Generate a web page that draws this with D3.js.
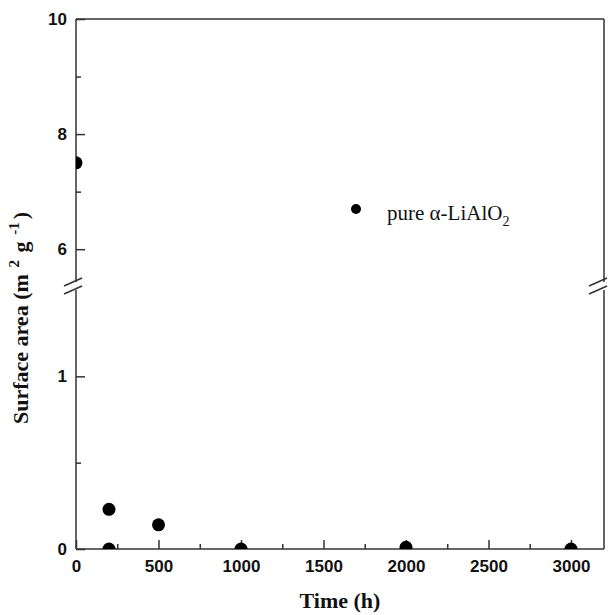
<!DOCTYPE html>
<html>
<head>
<meta charset="utf-8">
<script src="https://cdn.jsdelivr.net/npm/d3@7"></script>
<style>
  body { margin: 0; background: #fff; }
  .tick text { font-family: "Liberation Sans", Arial, sans-serif; font-weight: bold; font-size: 17px; fill: #111; }
  .tick line { stroke: #333; stroke-width: 1.5; }
  .frame { stroke: #333; stroke-width: 1.5; fill: none; }
  .title { font-family: "Liberation Serif", "Times New Roman", serif; font-weight: bold; font-size: 22px; fill: #111; }
  .legend-text { font-family: "Liberation Serif", "Times New Roman", serif; font-size: 21px; fill: #111; }
</style>
</head>
<body>
<div id="wrapper"></div>
<script>
// Data: surface area of pure alpha-LiAlO2 over time
const times = [0, 200, 200, 500, 1000, 2000, 3000];
const surfaceArea = [7.5, 0.23, 0, 0.14, 0, 0.01, 0];

const xTicks = [0, 500, 1000, 1500, 2000, 2500, 3000];
const xMinorTicks = [250, 750, 1250, 1750, 2250, 2750];
const yUpperTicks = [6, 8, 10];
const yUpperMinor = [7, 9];
const yLowerTicks = [0, 1];
const yLowerMinor = [0.5];

function drawChart() {
  const width = 608;
  const height = 615;
  const plot = { left: 76, right: 604, top: 19, bottom: 549 };
  // the y axis is split into two segments
  const breakTop = 282;
  const breakBottom = 290;

  const svg = d3.select("#wrapper").append("svg")
    .attr("width", width)
    .attr("height", height);

  const xScale = d3.scaleLinear()
    .domain([0, 3200])
    .range([plot.left, plot.right]);

  const yUpper = d3.scaleLinear()
    .domain([5.43, 10])
    .range([breakTop, plot.top]);

  const yLower = d3.scaleLinear()
    .domain([0, 1.5])
    .range([plot.bottom, breakBottom]);

  const yPos = v => v >= 3 ? yUpper(v) : yLower(v);
  const fmt = d3.format("d");

  // Axes with ticks pointing inward
  svg.append("g")
    .attr("transform", `translate(0, ${plot.bottom})`)
    .call(d3.axisBottom(xScale).tickValues(xTicks).tickFormat(fmt).tickSize(-9).tickPadding(11));
  svg.append("g")
    .attr("transform", `translate(0, ${plot.bottom})`)
    .call(d3.axisBottom(xScale).tickValues(xMinorTicks).tickSize(-5).tickFormat(""));

  svg.append("g")
    .attr("transform", `translate(${plot.left}, 0)`)
    .call(d3.axisLeft(yUpper).tickValues(yUpperTicks).tickFormat(fmt).tickSize(-9).tickPadding(9));
  svg.append("g")
    .attr("transform", `translate(${plot.left}, 0)`)
    .call(d3.axisLeft(yUpper).tickValues(yUpperMinor).tickSize(-5).tickFormat(""));
  svg.append("g")
    .attr("transform", `translate(${plot.left}, 0)`)
    .call(d3.axisLeft(yLower).tickValues(yLowerTicks).tickFormat(fmt).tickSize(-9).tickPadding(9));
  svg.append("g")
    .attr("transform", `translate(${plot.left}, 0)`)
    .call(d3.axisLeft(yLower).tickValues(yLowerMinor).tickSize(-5).tickFormat(""));

  svg.selectAll(".domain").remove();

  // Frame, with a gap where the y axis is broken
  const frame = svg.append("g");
  const segments = [
    [plot.left, plot.top, plot.right, plot.top],
    [plot.left, plot.bottom, plot.right, plot.bottom],
    [plot.left, plot.top, plot.left, breakTop],
    [plot.left, breakBottom, plot.left, plot.bottom],
    [plot.right, plot.top, plot.right, breakTop],
    [plot.right, breakBottom, plot.right, plot.bottom],
  ];
  frame.selectAll("line.frame")
    .data(segments)
    .join("line")
      .attr("class", "frame")
      .attr("x1", d => d[0]).attr("y1", d => d[1])
      .attr("x2", d => d[2]).attr("y2", d => d[3]);

  // Break marks: two slanted strokes on each side
  [plot.left - 3, plot.right - 6].forEach(cx => {
    [breakTop, breakBottom].forEach(cy => {
      frame.append("line")
        .attr("class", "frame")
        .attr("x1", cx - 9).attr("y1", cy + 4)
        .attr("x2", cx + 9).attr("y2", cy - 4);
    });
  });

  // Points, clipped to the plot area
  svg.append("defs").append("clipPath")
      .attr("id", "plot-clip")
    .append("rect")
      .attr("x", plot.left)
      .attr("y", plot.top)
      .attr("width", plot.right - plot.left)
      .attr("height", plot.bottom - plot.top);

  svg.append("g")
      .attr("clip-path", "url(#plot-clip)")
    .selectAll("circle")
    .data(times.map((t, i) => ({ t, v: surfaceArea[i] })))
    .join("circle")
      .attr("cx", d => xScale(d.t))
      .attr("cy", d => yPos(d.v))
      .attr("r", 6.5)
      .attr("fill", "#000");

  // Legend
  const legend = svg.append("g").attr("transform", "translate(356, 209)");
  legend.append("circle").attr("r", 5).attr("fill", "#000");
  const legendText = legend.append("text")
    .attr("class", "legend-text")
    .attr("x", 31)
    .attr("y", 11);
  legendText.append("tspan").text("pure \u03b1-LiAlO");
  legendText.append("tspan").attr("dy", 6).attr("font-size", 14).text("2");

  // Axis titles
  svg.append("text")
    .attr("class", "title")
    .attr("x", (plot.left + plot.right) / 2)
    .attr("y", 608)
    .attr("text-anchor", "middle")
    .text("Time (h)");

  const yTitle = svg.append("text")
    .attr("class", "title")
    .attr("transform", "translate(28, 318) rotate(-90)")
    .attr("text-anchor", "middle");
  yTitle.append("tspan").text("Surface area (m");
  yTitle.append("tspan").attr("dx", 3).attr("dy", -9).attr("font-size", 15).text(" 2");
  yTitle.append("tspan").attr("dx", 2).attr("dy", 9).text(" g");
  yTitle.append("tspan").attr("dx", 3).attr("dy", -9).attr("font-size", 15).text(" -1");
  yTitle.append("tspan").attr("dx", 3).attr("dy", 9).text(")");
}
drawChart();
</script>
</body>
</html>
